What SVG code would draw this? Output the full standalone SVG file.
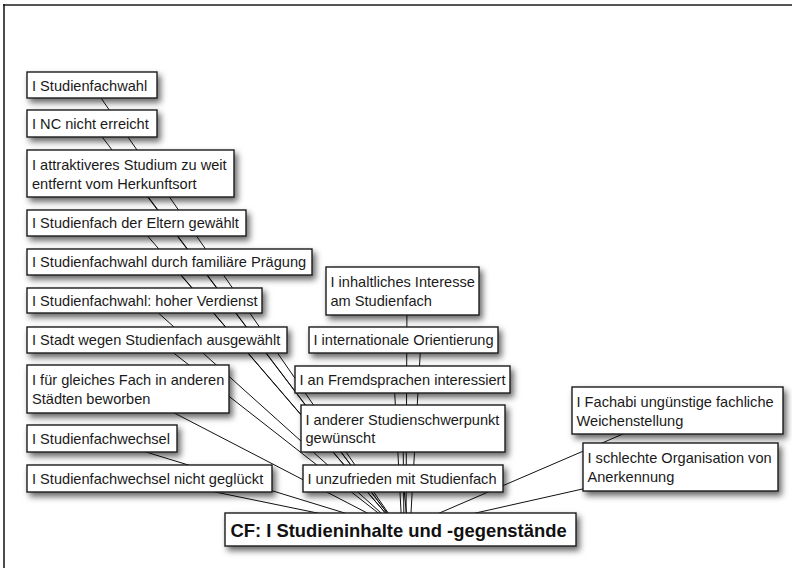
<svg xmlns="http://www.w3.org/2000/svg" width="792" height="568" viewBox="0 0 792 568">
<defs>
<filter id="sh" x="-10%" y="-30%" width="125%" height="180%">
<feDropShadow dx="3" dy="4" stdDeviation="3" flood-color="#000" flood-opacity="0.6"/>
</filter>
</defs>
<style>
.box{fill:#fff;stroke:#1a1a1a;stroke-width:1.4;filter:url(#sh)}
.t{font-family:"Liberation Sans",Arial,Helvetica,sans-serif;font-size:14.6px;fill:#1a1a1a}
.tb{font-family:"Liberation Sans",Arial,Helvetica,sans-serif;font-size:18.4px;font-weight:bold;fill:#111}
.c line{stroke:#111;stroke-width:1}
.frame{stroke-linecap:square}
</style>
<rect width="792" height="568" fill="#fff"/>
<line class="frame" x1="4" y1="5" x2="792" y2="5" stroke="#555" stroke-width="2"/>
<line class="frame" x1="4" y1="5" x2="4" y2="568" stroke="#111" stroke-width="1.5"/>
<g id="connectors" class="c">
<line x1="92" y1="85" x2="400" y2="530"/>
<line x1="92" y1="123.5" x2="400" y2="530"/>
<line x1="130.5" y1="173.5" x2="400" y2="530"/>
<line x1="136.5" y1="223" x2="400" y2="530"/>
<line x1="169.5" y1="262" x2="400" y2="530"/>
<line x1="144.5" y1="300.5" x2="400" y2="530"/>
<line x1="157" y1="340" x2="400" y2="530"/>
<line x1="128" y1="389" x2="400" y2="530"/>
<line x1="102" y1="438.5" x2="400" y2="530"/>
<line x1="149.5" y1="478.5" x2="400" y2="530"/>
<line x1="407" y1="291" x2="406" y2="530"/>
<line x1="421" y1="340" x2="410" y2="530"/>
<line x1="394" y1="380" x2="402" y2="530"/>
<line x1="403" y1="428" x2="404" y2="530"/>
<line x1="403" y1="478" x2="408" y2="530"/>
<line x1="677.5" y1="410.5" x2="400" y2="530"/>
<line x1="680.5" y1="467" x2="400" y2="530"/>
</g>
<g id="n1"><rect class="box" x="27" y="72" width="130" height="26"/><text class="t" x="32" y="90.5">I Studienfachwahl</text></g>
<g id="n2"><rect class="box" x="27" y="110" width="130" height="27"/><text class="t" x="32" y="128.5">I NC nicht erreicht</text></g>
<g id="n3"><rect class="box" x="27" y="150" width="207" height="47"/><text class="t" x="32" y="170">I attraktiveres Studium zu weit</text><text class="t" x="32" y="188.5">entfernt vom Herkunftsort</text></g>
<g id="n4"><rect class="box" x="27" y="210" width="219" height="26"/><text class="t" x="32" y="228">I Studienfach der Eltern gewählt</text></g>
<g id="n5"><rect class="box" x="27" y="249" width="285" height="26"/><text class="t" x="32" y="267">I Studienfachwahl durch familiäre Prägung</text></g>
<g id="n6"><rect class="box" x="27" y="288" width="235" height="25"/><text class="t" x="32" y="305.5">I Studienfachwahl: hoher Verdienst</text></g>
<g id="n7"><rect class="box" x="27" y="327" width="260" height="26"/><text class="t" x="32" y="345">I Stadt wegen Studienfach ausgewählt</text></g>
<g id="n8"><rect class="box" x="27" y="365" width="202" height="48"/><text class="t" x="32" y="385">I für gleiches Fach in anderen</text><text class="t" x="32" y="403.5">Städten beworben</text></g>
<g id="n9"><rect class="box" x="27" y="425" width="150" height="27"/><text class="t" x="32" y="443.5">I Studienfachwechsel</text></g>
<g id="n10"><rect class="box" x="27" y="465" width="245" height="27"/><text class="t" x="32" y="483.5">I Studienfachwechsel nicht geglückt</text></g>
<g id="n11"><rect class="box" x="326" y="267" width="153" height="48"/><text class="t" x="330.5" y="287">I inhaltliches Interesse</text><text class="t" x="330.5" y="305.5">am Studienfach</text></g>
<g id="n12"><rect class="box" x="309" y="327" width="189" height="26"/><text class="t" x="313.5" y="345">I internationale Orientierung</text></g>
<g id="n13"><rect class="box" x="295" y="366" width="215" height="27"/><text class="t" x="299.5" y="384.5">I an Fremdsprachen interessiert</text></g>
<g id="n14"><rect class="box" x="301" y="405" width="204" height="47"/><text class="t" x="305.5" y="424.5">I anderer Studienschwerpunkt</text><text class="t" x="305.5" y="443">gewünscht</text></g>
<g id="n15"><rect class="box" x="303" y="465" width="200" height="27"/><text class="t" x="307.5" y="483.5">I unzufrieden mit Studienfach</text></g>
<g id="n16"><rect class="box" x="572" y="387" width="211" height="47"/><text class="t" x="576.5" y="407">I Fachabi ungünstige fachliche</text><text class="t" x="576.5" y="425.5">Weichenstellung</text></g>
<g id="n17"><rect class="box" x="583" y="443" width="195" height="48"/><text class="t" x="587.5" y="463">I schlechte Organisation von</text><text class="t" x="587.5" y="482">Anerkennung</text></g>
<g id="cf"><rect class="box" x="225" y="513" width="351" height="33"/><text class="tb" x="230.5" y="537">CF: I Studieninhalte und -gegenstände</text></g>
</svg>
